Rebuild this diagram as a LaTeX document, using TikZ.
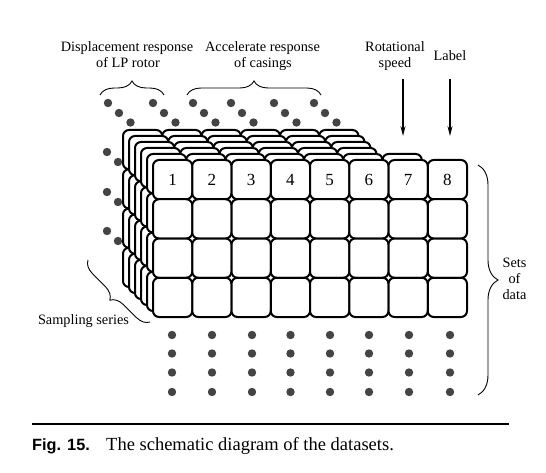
\documentclass[tikz,border=0pt]{standalone}
\usepackage{fontspec}
\setmainfont{Liberation Serif}
\newfontfamily\capsans{Liberation Sans}
\usetikzlibrary{arrows.meta,decorations.pathreplacing}
\definecolor{dotgray}{RGB}{68,68,68}
\begin{document}
\begin{tikzpicture}[x=1pt,y=-1pt,
  cell/.style={draw=black, fill=white, line width=2pt, rounded corners=6pt,
    minimum width=39.25pt, minimum height=39.25pt, inner sep=0pt, outer sep=0pt,
    font=\fontsize{17}{17}\selectfont},
  lbl/.style={inner sep=0pt, anchor=base, font=\fontsize{14.3}{16}\selectfont},
  dot/.style={fill=dotgray, draw=none},
  bracestyle/.style={decorate, line width=0.9pt},
  arr/.style={line width=1.1pt, -{Stealth[length=10pt,width=5pt]}}
]
\useasboundingbox (0,0) rectangle (546,473);
\fill[white] (0,0) rectangle (546,473);

% ---- top labels ----
\node[lbl] (disp1) at (127,51.7) {Displacement response};
\node[lbl] (disp2) at (128,67.7) {of LP rotor};
\node[lbl] (acc1) at (262.5,51.7) {Accelerate response};
\node[lbl] (acc2) at (263,67.7) {of casings};
\node[lbl] (rot1) at (395,51.7) {Rotational};
\node[lbl] (rot2) at (395,67.7) {speed};
\node[lbl] (lab) at (450,61) {Label};

% braces over the signal groups
\draw[bracestyle, decoration={brace, amplitude=14pt}] (100,95) -- (164,95);
\draw[bracestyle, decoration={brace, amplitude=14pt}] (187,95) -- (321,95);

% arrows
\coordinate (rotA) at (403,79);
\coordinate (rotB) at (403,136);
\coordinate (labA) at (450,79);
\coordinate (labB) at (450,136);
\draw[arr] (rotA) -- (rotB);
\draw[arr] (labA) -- (labB);

% ---- dots above (sampling continuation) ----
\foreach \x in {108,153,193,231,274,314}{
  \fill[dot] (\x,103) circle (4.2pt);
  \fill[dot] (\x+11,113) circle (4.2pt);
  \fill[dot] (\x+22.5,122.5) circle (4.2pt);
}
% ---- dots on the left ----
\foreach \y in {152,192,231}{
  \fill[dot] (107,\y) circle (4.2pt);
  \fill[dot] (118,\y+10) circle (4.2pt);
}

% ---- back layers ----
\foreach \k in {5,4,3,2}{
  \foreach \c in {1,...,6}{
    \foreach \r in {1,...,4}{
      \node[cell] at ({153+(\c-0.5)*39.25-6*\k},{160+(\r-0.5)*39.25-6*\k}) {};
    }
  }
}
\foreach \c in {1,...,7}{
  \foreach \r in {1,...,4}{
    \node[cell] at ({153+(\c-0.5)*39.25-6},{160+(\r-0.5)*39.25-6}) {};
  }
}

% ---- front layer ----
\foreach \c in {1,...,8}{
  \foreach \r in {1,...,4}{
    \ifnum\r=1
      \node[cell] (f\c-\r) at ({153+(\c-0.5)*39.25},{160+(\r-0.5)*39.25}) {\c};
    \else
      \node[cell] (f\c-\r) at ({153+(\c-0.5)*39.25},{160+(\r-0.5)*39.25}) {};
    \fi
  }
}

% ---- dots below ----
\foreach \x in {172,212,252,290.5,330,369,409,450}{
  \foreach \y in {335,353.5,372.5,392}{
    \fill[dot] (\x,\y) circle (4.2pt);
  }
}

% ---- right brace and label ----
\draw[bracestyle, decoration={brace, amplitude=20pt}] (478,165) -- (478,395);
\node[lbl] (sets1) at (514.5,267) {Sets};
\node[lbl] (sets2) at (514.5,283) {of};
\node[lbl] (sets3) at (514.5,299) {data};

% ---- sampling series ----
\draw[bracestyle, decoration={brace, amplitude=13pt}] (150,322) -- (88,260);
\node[lbl] (samp) at (83.5,324) {Sampling series};

% ---- caption ----
\coordinate (ruleA) at (32,424);
\coordinate (ruleB) at (509,424);
\draw[line width=1.8pt] (ruleA) -- (ruleB);
\node[inner sep=0pt, anchor=base west, font=\capsans\bfseries\fontsize{16.3}{18}\selectfont] (figno) at (32,450) {Fig. 15.};
\node[inner sep=0pt, anchor=base west, font=\fontsize{18.5}{20}\selectfont] (captxt) at (106,450) {The schematic diagram of the datasets.};
\end{tikzpicture}
\end{document}
